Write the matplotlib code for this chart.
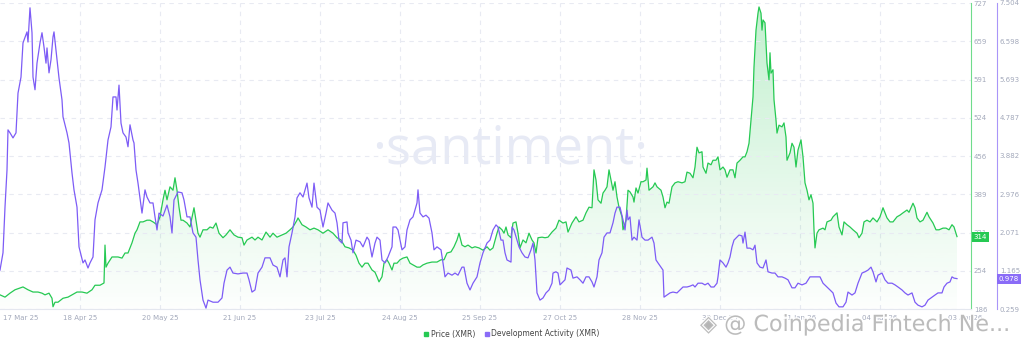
import numpy as np
import pandas as pd
import matplotlib
matplotlib.use("Agg")
import matplotlib.pyplot as plt
import matplotlib.dates as mdates
import matplotlib.patheffects as pe
from matplotlib.patches import Polygon
from matplotlib.lines import Line2D
from matplotlib.transforms import ScaledTranslation, blended_transform_factory

# days after 17 Mar 2025
price_day = [
    0, 2, 4, 6, 8, 9.2, 11.2, 13.2, 15.2, 16.8,
    18, 19.6, 20.8, 21.2, 22, 23.2, 25.2, 27.2, 28.8, 30.8,
    32.8, 34.8, 36.8, 38, 40, 41.6, 42, 42.4, 43.2, 44.8,
    46, 47.2, 48.8, 50, 51.2, 52.8, 54, 54.8, 56, 57.2,
    58.8, 60, 61.2, 62.8, 64, 65.2, 66, 66.8, 68, 69.2,
    70, 70.8, 71.6, 72.4, 73.2, 74.8, 76, 77.2, 77.6, 78.4,
    79.2, 80, 81.2, 82.8, 84, 85.2, 86.4, 87.6, 89.2, 90.4,
    92, 93.6, 95.2, 96.8, 97.6, 98.8, 100.8, 102, 103.2, 104.8,
    106.4, 108, 109.2, 110.8, 112.8, 114.4, 116, 117.2, 118.8, 119.2,
    120.8, 122.4, 124, 125.6, 127.2, 129.2, 131.2, 133.2, 134.8, 136.4,
    138, 139.6, 141.2, 142.4, 143.6, 144.8, 146, 147.2, 148.8, 150,
    150.8, 151.6, 152.8, 153.6, 154.8, 155.6, 156.8, 157.6, 158.8, 160,
    161.2, 162.8, 164, 165.2, 166.8, 168, 169.2, 170.8, 172.8, 174.8,
    176.4, 177.6, 178.8, 180.4, 181.6, 182.8, 183.6, 184.8, 186, 187.2,
    188.8, 190, 191.6, 193.2, 194.8, 196, 197.2, 198.8, 199.6, 200.8,
    201.6, 202.4, 203.2, 204.4, 205.2, 206.4, 207.2, 208, 209.2, 210.4,
    211.6, 212.8, 213.6, 214.4, 215.2, 216.8, 218, 219.2, 220.8, 222.4,
    223.6, 225.2, 226.4, 227.2, 228.8, 230.4, 231.6, 233.2, 234.4, 235.6,
    236.8, 237.6, 238.4, 239.2, 240.4, 241.2, 242, 242.8, 243.6, 244.4,
    245.2, 246, 246.8, 247.6, 248.8, 249.2, 250.4, 251.2, 252, 253.2,
    253.6, 254.4, 255.2, 256.4, 257.2, 258.4, 258.8, 259.6, 261.2, 262,
    262.8, 264.4, 265.2, 266, 266.8, 267.6, 268.8, 270, 271.2, 272.8,
    274, 274.8, 276, 277.2, 278, 278.8, 279.6, 280.8, 281.2, 282.4,
    283.2, 284.4, 285.2, 286.4, 287.2, 288, 289.2, 290, 290.8, 292,
    293.2, 294, 294.8, 296, 297.2, 298, 298.8, 299.6, 300.4, 301.2,
    301.6, 302.4, 303.2, 303.6, 304.4, 304.8, 305.2, 306, 306.4, 306.8,
    307.6, 308, 308.4, 309.2, 309.6, 310.4, 310.8, 311.6, 312.8, 313.6,
    314.4, 314.8, 316, 316.8, 317.6, 318.4, 319.2, 320.4, 321.2, 322,
    322.8, 323.6, 324.4, 325.2, 325.6, 326, 326.8, 327.6, 329.2, 330,
    330.8, 332.4, 333.2, 334.8, 335.6, 336.8, 337.6, 338.8, 340, 341.2,
    342.8, 343.6, 344.8, 345.6, 346.8, 348, 349.2, 350.8, 352, 353.2,
    354, 354.8, 356, 357.2, 358.8, 360, 361.2, 362.8, 363.6, 365.2,
    366, 366.8, 368, 369.2, 370.8, 371.6, 373.2, 374.4, 375.6, 377.2,
    378.4, 379.6, 380.8, 381.6, 382.8,
]
price = [
    211, 207, 214, 220, 223, 225, 220, 216, 216, 214,
    211, 214, 205, 190, 198, 198, 205, 207, 211, 216,
    216, 214, 220, 228, 228, 232, 299, 260, 267, 278,
    278, 278, 276, 285, 285, 303, 320, 326, 340, 340,
    343, 343, 340, 335, 349, 379, 396, 379, 402, 396,
    418, 396, 366, 343, 343, 338, 331, 356, 365, 343,
    320, 313, 326, 326, 331, 329, 338, 320, 312, 317,
    326, 317, 313, 312, 299, 308, 313, 308, 313, 308,
    322, 313, 320, 313, 317, 320, 326, 331, 343, 347,
    335, 331, 326, 329, 326, 320, 326, 320, 312, 308,
    296, 294, 290, 281, 267, 260, 267, 267, 255, 251,
    243, 234, 243, 267, 273, 267, 255, 267, 267, 273,
    276, 278, 267, 264, 260, 260, 264, 267, 269, 269,
    273, 273, 285, 287, 296, 308, 320, 299, 296, 299,
    294, 296, 294, 290, 296, 290, 294, 320, 331, 326,
    320, 331, 317, 312, 338, 340, 320, 294, 308, 303,
    320, 308, 303, 285, 312, 313, 312, 313, 322, 329,
    343, 338, 340, 322, 338, 349, 340, 343, 356, 366,
    365, 432, 414, 379, 373, 391, 396, 402, 432, 414,
    396, 411, 384, 366, 349, 326, 343, 396, 393, 384,
    375, 400, 391, 411, 411, 414, 435, 396, 402, 409,
    402, 396, 384, 365, 375, 373, 402, 409, 411, 409,
    411, 428, 426, 418, 437, 472, 462, 464, 437, 426,
    444, 441, 449, 449, 455, 432, 437, 432, 419, 432,
    432, 418, 444, 449, 455, 455, 464, 479, 520, 561,
    614, 679, 709, 720, 709, 679, 697, 692, 656, 621,
    591, 639, 603, 609, 556, 520, 497, 511, 508, 515,
    490, 449, 462, 479, 472, 437, 467, 485, 455, 409,
    396, 379, 388, 373, 326, 294, 320, 326, 329, 326,
    340, 343, 349, 356, 331, 317, 340, 335, 331, 326,
    320, 312, 320, 340, 343, 340, 347, 340, 349, 365,
    356, 347, 340, 340, 349, 352, 356, 361, 357, 373,
    365, 347, 340, 343, 357, 349, 338, 326, 326, 329,
    329, 326, 335, 331, 314,
]

dev_day = [
    0, 1.2, 2, 2.8, 3.2, 4, 5.2, 6.4, 7.2, 8.4,
    9.2, 10.8, 11.2, 12, 12.8, 13.2, 14, 14.8, 16, 16.8,
    17.6, 18.4, 18.8, 19.6, 20.4, 21.2, 21.6, 22.8, 23.6, 24.8,
    25.2, 26.8, 27.6, 28.8, 29.6, 30.8, 31.6, 33.2, 34, 35.2,
    36, 37.2, 38, 39.2, 40.8, 42, 43.2, 44.4, 45.2, 46.4,
    46.8, 47.6, 48.4, 49.2, 50.4, 51.2, 52, 53.2, 53.6, 54.4,
    55.2, 56.8, 58, 58.8, 60, 61.2, 62, 62.8, 63.6, 65.2,
    66.8, 68, 68.8, 69.6, 71.2, 72.8, 73.6, 74.8, 76, 77.2,
    78.4, 79.2, 80, 81.2, 82.4, 83.2, 85.2, 87.2, 88.8, 89.6,
    90.8, 92, 93.2, 95.2, 97.2, 98.8, 99.6, 100.8, 102, 103.2,
    104.8, 106, 108, 109.2, 110.8, 112, 113.2, 114, 114.8, 115.6,
    116.8, 118, 118.8, 120, 121.2, 122.8, 123.6, 124.8, 125.6, 126.8,
    128, 129.2, 130.4, 131.2, 132.8, 134, 134.8, 135.6, 136.8, 137.2,
    138.8, 139.2, 140.4, 141.2, 142.4, 144, 145.2, 146.8, 147.6, 148.8,
    150, 150.8, 152, 152.8, 154, 155.2, 156.8, 157.2, 158.4, 159.2,
    160.8, 162, 162.8, 164, 165.2, 166.8, 167.2, 168, 169.2, 170.4,
    171.6, 172.8, 173.6, 174.8, 176.4, 177.2, 178, 179.2, 180.8, 182,
    183.2, 184.8, 185.6, 186.8, 188, 189.2, 190.8, 192, 193.2, 194.8,
    196, 197.2, 198.4, 199.2, 200.4, 201.2, 202, 202.8, 204.4, 204.8,
    205.6, 206.8, 207.6, 208.8, 210, 211.2, 212.4, 213.2, 214, 214.8,
    216, 217.2, 218.4, 219.6, 220.8, 221.2, 222.4, 223.2, 224, 225.2,
    226, 226.8, 228.4, 229.2, 230.8, 232, 233.2, 234.4, 235.6, 236.8,
    237.6, 238.8, 239.6, 240.8, 241.6, 242.8, 244, 245.2, 246, 246.8,
    248, 249.2, 250, 250.8, 251.2, 252, 252.8, 253.6, 254.8, 255.6,
    256.8, 258, 259.2, 260.8, 261.6, 262.4, 263.2, 264.4, 265.2, 265.6,
    266.8, 268, 269.2, 270.8, 272, 273.2, 274.8, 276, 277.2, 278,
    279.2, 280.8, 282, 283.2, 284.4, 285.6, 286.8, 287.2, 288, 289.2,
    290.4, 291.2, 292, 292.8, 293.6, 294.8, 295.6, 296.8, 297.2, 298,
    298.8, 300, 301.2, 302, 302.8, 304, 305.2, 306.4, 307.2, 308.8,
    310, 311.2, 312.8, 314, 315.2, 316.8, 318, 319.2, 320.8, 322.4,
    324, 326, 328, 329.2, 330.8, 332, 333.2, 334.4, 335.6, 337.2,
    338.4, 339.2, 340.8, 342, 343.2, 344.8, 346, 347.2, 348.4, 349.2,
    350.4, 351.2, 352.8, 354, 355.2, 356.8, 358, 359.2, 360.8, 362,
    363.2, 364.8, 366, 367.2, 368.8, 370, 371.2, 372.8, 374, 375.2,
    376.8, 377.6, 378.8, 380, 380.8, 381.6, 382.8,
]
dev = [
    1.18, 1.59, 2.67, 3.55, 4.50, 4.43, 4.31, 4.43, 5.37, 5.75,
    6.56, 6.82, 6.58, 7.39, 6.80, 5.75, 5.45, 6.08, 6.56, 6.80,
    6.46, 6.08, 6.44, 5.85, 6.16, 6.70, 6.82, 6.16, 5.73, 5.21,
    4.81, 4.43, 4.19, 3.48, 3.08, 2.67, 1.73, 1.35, 1.42, 1.23,
    1.35, 1.49, 2.37, 2.77, 3.08, 3.62, 4.26, 4.57, 5.28, 5.28,
    4.97, 5.56, 4.66, 4.43, 4.33, 4.10, 4.62, 4.26, 4.19, 3.55,
    3.24, 2.53, 3.08, 2.91, 2.77, 2.77, 2.44, 2.13, 2.53, 2.46,
    2.72, 2.44, 2.06, 2.84, 3.03, 3.01, 2.84, 2.44, 2.44, 2.06,
    1.96, 1.42, 0.95, 0.47, 0.28, 0.47, 0.42, 0.42, 0.52, 0.87,
    1.18, 1.25, 1.11, 1.09, 1.11, 1.11, 0.95, 0.66, 0.71, 1.11,
    1.25, 1.47, 1.47, 1.30, 1.25, 1.02, 1.42, 1.47, 1.02, 1.73,
    2.06, 2.44, 2.89, 3.01, 2.91, 3.24, 2.89, 2.67, 3.24, 2.67,
    2.60, 2.20, 2.53, 2.77, 2.60, 2.53, 2.30, 1.89, 1.82, 2.30,
    2.32, 2.06, 1.89, 1.59, 1.89, 1.85, 1.73, 1.96, 1.89, 1.49,
    1.82, 1.96, 1.89, 1.42, 1.35, 1.49, 1.73, 2.20, 2.20, 2.13,
    1.66, 1.73, 2.13, 2.37, 2.44, 2.77, 3.08, 2.53, 2.44, 2.48,
    2.41, 2.06, 1.66, 1.73, 1.66, 1.35, 1.02, 1.11, 1.06, 1.11,
    1.06, 1.25, 1.25, 0.87, 0.71, 0.87, 1.02, 1.35, 1.59, 1.82,
    1.89, 2.13, 2.25, 2.20, 1.89, 1.89, 1.59, 1.42, 1.37, 2.20,
    2.13, 1.89, 1.73, 1.59, 1.49, 1.47, 1.66, 1.82, 1.42, 0.64,
    0.47, 0.52, 0.64, 0.71, 0.87, 1.11, 1.14, 1.11, 0.83, 0.90,
    0.95, 1.23, 1.18, 0.99, 1.02, 0.95, 0.87, 1.02, 1.02, 0.90,
    0.78, 1.02, 1.42, 1.59, 1.96, 2.06, 2.06, 2.30, 2.53, 2.67,
    2.67, 2.37, 2.13, 2.60, 2.37, 2.44, 1.89, 1.96, 1.89, 2.37,
    1.96, 1.89, 1.89, 1.96, 1.82, 1.42, 1.35, 1.25, 1.18, 0.54,
    0.59, 0.64, 0.66, 0.64, 0.71, 0.78, 0.78, 0.80, 0.83, 0.78,
    0.87, 0.87, 0.83, 0.87, 0.78, 0.78, 0.87, 1.02, 1.42, 1.35,
    1.25, 1.35, 1.49, 1.73, 1.89, 1.96, 2.01, 1.99, 1.82, 2.08,
    1.70, 1.70, 1.66, 1.77, 1.35, 1.25, 1.23, 1.42, 1.14, 1.11,
    1.11, 1.02, 1.02, 0.99, 0.95, 0.76, 0.76, 0.87, 0.83, 0.87,
    1.02, 1.02, 1.02, 0.87, 0.78, 0.71, 0.64, 0.40, 0.31, 0.31,
    0.42, 0.66, 0.59, 0.64, 0.87, 1.11, 1.14, 1.18, 1.25, 1.14,
    0.90, 1.06, 1.11, 0.95, 0.87, 0.87, 0.83, 0.78, 0.71, 0.64,
    0.59, 0.64, 0.42, 0.35, 0.31, 0.35, 0.47, 0.54, 0.59, 0.64,
    0.64, 0.78, 0.87, 0.90, 1.02, 0.99, 0.978,
]

price_ticks = [186, 254, 321, 389, 456, 524, 591, 659, 727]
dev_ticks = [0.259, 1.165, 2.071, 2.976, 3.882, 4.787, 5.693, 6.598, 7.504]
date_ticks = ["2025-03-17", "2025-04-18", "2025-05-20", "2025-06-21", "2025-07-23",
              "2025-08-24", "2025-09-25", "2025-10-27", "2025-11-28", "2025-12-30",
              "2026-01-31", "2026-03-04", "2026-04-03"]
date_labels = ["17 Mar 25", "18 Apr 25", "20 May 25", "21 Jun 25", "23 Jul 25",
               "24 Aug 25", "25 Sep 25", "27 Oct 25", "28 Nov 25", "30 Dec 25",
               "31 Jan 26", "04 Mar 26", "03 Apr 26"]

assert len(price_day) == len(price)
assert len(dev_day) == len(dev)

GREEN = "#26c953"
PURPLE = "#7d5cf6"
GREY = "#a3a9bb"
PT = 72 / 100  # points per pixel

start = pd.Timestamp("2025-03-17")
px = mdates.date2num(start + pd.to_timedelta(price_day, unit="D"))
dx = mdates.date2num(start + pd.to_timedelta(dev_day, unit="D"))
tx = mdates.date2num(pd.to_datetime(date_ticks))
x0 = mdates.date2num(start)
x1 = x0 + 388.4

fig = plt.figure(figsize=(10.24, 3.47), dpi=100)
ax = fig.add_axes([0, 38 / 347, 971 / 1024, 306 / 347])
ax2 = ax.twinx()

# gradient fill under price
verts = list(zip(px, price)) + [(px[-1], 186), (px[0], 186)]
poly = Polygon(verts, closed=True, fc="none", ec="none")
ax.add_patch(poly)
grad = np.zeros((256, 1, 4))
grad[:, 0, :3] = matplotlib.colors.to_rgb(GREEN)
grad[:, 0, 3] = np.linspace(0.28, 0.01, 256)
im = ax.imshow(grad, extent=[x0, x1, 186, 727], aspect="auto", origin="upper", zorder=1)
im.set_clip_path(poly)

ax.plot(px, price, color=GREEN, lw=0.9, zorder=3)
ax.set_xlim(x0, x1)
ax.set_ylim(186, 727)

for s in ["top", "left"]:
    ax.spines[s].set_visible(False)
ax.spines["bottom"].set_color("#e4e7ef")
ax.spines["right"].set_color("#6fdc8c")
ax.yaxis.tick_right()
ax.set_yticks(price_ticks)
ax.set_yticklabels([str(t) for t in price_ticks])
ax.tick_params(axis="y", length=0, pad=2, labelsize=5, labelcolor=GREY)
ax.grid(axis="y", color="#e8eaf2", lw=0.8, ls=(0, (4, 4)))
for t in tx[1:-1]:
    ax.axvline(t, color="#e8eaf2", lw=0.8, ls=(0, (4, 4)), zorder=0)

ax.set_xticks(tx)
ax.set_xticklabels(date_labels)
ax.tick_params(axis="x", length=0, pad=4, labelsize=5, labelcolor=GREY)
labs = ax.get_xticklabels()
labs[0].set_ha("left")
labs[0].set_transform(labs[0].get_transform() + ScaledTranslation(3 / 100, 0, fig.dpi_scale_trans))
labs[-1].set_transform(labs[-1].get_transform() + ScaledTranslation(10 / 100, 0, fig.dpi_scale_trans))

ax.text(0.525, 0.52, "\u00b7santiment\u00b7", transform=ax.transAxes, ha="center", va="center",
        fontsize=38, color="#e7eaf5", family="Open Sans", zorder=0)

ax2.plot(dx, dev, color=PURPLE, lw=0.9, zorder=3)
ax2.set_ylim(0.259, 7.504)
for s in ["top", "left", "bottom"]:
    ax2.spines[s].set_visible(False)
ax2.spines["right"].set_position(("outward", 26 * PT))
ax2.spines["right"].set_color("#a995f8")
ax2.set_yticks(dev_ticks)
ax2.set_yticklabels([f"{t:.3f}" for t in dev_ticks])
ax2.tick_params(axis="y", length=0, pad=2, labelsize=5, labelcolor=GREY)

tr1 = blended_transform_factory(ax.transAxes, ax.transData)
ax.text(1.003, price[-1], str(price[-1]), transform=tr1, ha="left", va="center", fontsize=5,
        color="white", bbox=dict(boxstyle="square,pad=0.3", fc=GREEN, ec="none"), zorder=5, clip_on=False)
tr2 = blended_transform_factory(ax2.transAxes, ax2.transData)
ax2.text(1 + 28 / 971, dev[-1], f"{dev[-1]:.3f}", transform=tr2, ha="left", va="center", fontsize=5,
         color="white", bbox=dict(boxstyle="square,pad=0.3", fc="#8a6cf7", ec="none"), zorder=5, clip_on=False)

handles = [Line2D([], [], ls="none", marker="s", ms=3.5, color=GREEN),
           Line2D([], [], ls="none", marker="s", ms=3.5, color="#8a6cf7")]
fig.legend(handles, ["Price (XMR)", "Development Activity (XMR)"], loc="center",
           bbox_to_anchor=(512 / 1024, 13 / 347), ncol=2, frameon=False, fontsize=5.5,
           handlelength=0.6, handletextpad=0.3, columnspacing=1.2, labelcolor="#444444")

fig.text(700 / 1024, 22 / 347, "\u25c8 @ Coinpedia Fintech Ne...", fontsize=16, color="#b5b5b5",
         va="center", ha="left", alpha=0.9,
         path_effects=[pe.withStroke(linewidth=2, foreground="white")])

fig.savefig("out.png", dpi=100)
